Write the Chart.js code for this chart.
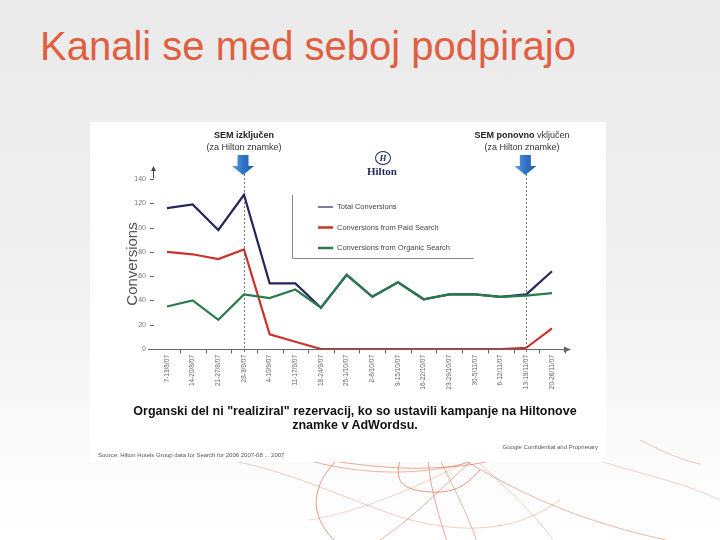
<!DOCTYPE html>
<html>
<head>
<meta charset="utf-8">
<script src="https://cdn.jsdelivr.net/npm/chart.js@4.4.1/dist/chart.umd.min.js"></script>
<style>
  html, body { margin: 0; padding: 0; }
  body {
    width: 720px; height: 540px; position: relative; overflow: hidden;
    background: linear-gradient(#eaeaea 0%, #efefef 45%, #f8f8f8 75%, #ffffff 100%);
    font-family: "Liberation Sans", Arial, sans-serif;
  }
  #title {
    position: absolute; left: 40px; top: 24px; margin: 0;
    font-size: 40px; font-weight: normal; color: #e15f41; white-space: nowrap;
  }
  #panel { position: absolute; left: 90px; top: 122px; width: 516px; height: 340px; background: #fff; }
  #chart { position: absolute; left: 0; top: 0; }
  .note { position: absolute; text-align: center; font-size: 9px; line-height: 12px; color: #333; white-space: nowrap; transform: translateX(-50%); }
  .note b { color: #222; }
  #hilton { position: absolute; left: 293px; top: 29px; width: 0; }
  #hilton .ring {
    position: absolute; left: -8px; top: 0; width: 14px; height: 12px; border: 1.5px solid #1f2a5e; border-radius: 50%;
    font: bold italic 9px "Liberation Serif", serif; color: #1f2a5e; text-align: center; line-height: 12px;
  }
  #hilton .word { position: absolute; left: -16px; top: 14px; font: bold 11px "Liberation Serif", serif; color: #1f2a5e; }
  #caption {
    position: absolute; left: 7px; width: 516px; top: 282px; text-align: center;
    font-size: 12.5px; font-weight: bold; line-height: 14px; color: #111;
  }
  #source { position: absolute; left: 8px; top: 330px; font-size: 6px; color: #555; white-space: nowrap; }
  #conf { position: absolute; right: 8px; top: 322px; font-size: 6px; color: #555; white-space: nowrap; }
  #swirls { position: absolute; left: 0; top: 440px; }
</style>
</head>
<body>
<h1 id="title">Kanali se med seboj podpirajo</h1>

<svg id="swirls" width="720" height="100">
  <g fill="none" stroke="#d8704e" stroke-width="1">
    <path d="M180 14 C 260 20, 300 40, 380 70 S 520 90, 560 60" opacity="0.35"/>
    <path d="M260 8 C 320 20, 380 30, 430 28 S 500 20, 520 8" opacity="0.6"/>
    <path d="M335 22 C 300 60, 320 90, 345 110" opacity="0.7"/>
    <path d="M300 18 C 360 36, 420 36, 470 22 S 520 10, 540 2" opacity="0.5"/>
    <path d="M400 20 C 395 40, 400 50, 430 52 S 470 40, 480 30" opacity="0.7"/>
    <path d="M428 18 C 430 50, 440 80, 450 110" opacity="0.6"/>
    <path d="M440 20 C 460 60, 470 80, 480 110" opacity="0.5"/>
    <path d="M470 22 C 440 50, 410 80, 380 100" opacity="0.55"/>
    <path d="M460 18 C 500 40, 560 80, 690 105" opacity="0.5"/>
    <path d="M480 24 C 520 60, 540 80, 560 110" opacity="0.35"/>
    <path d="M470 20 C 430 40, 370 70, 310 80" opacity="0.3"/>
    <path d="M580 14 C 620 30, 680 40, 720 60" opacity="0.3"/>
    <path d="M640 0 C 660 10, 680 20, 700 24" opacity="0.4"/>
  </g>
</svg>

<div id="panel">
  <canvas id="chart" width="516" height="340"></canvas>
  <div class="note" style="left:154px; top:7px;"><b>SEM izključen</b><br>(za Hilton znamke)</div>
  <div class="note" style="left:432px; top:7px;"><b>SEM ponovno</b> vključen<br>(za Hilton znamke)</div>
  <div id="hilton"><div class="ring">H</div><div class="word">Hilton</div></div>
  <div id="caption">Organski del ni "realiziral" rezervacij, ko so ustavili kampanje na Hiltonove<br>znamke v AdWordsu.</div>
  <div id="conf">Google Confidential and Proprietary</div>
  <div id="source">Source: Hilton Hotels Group data for Search for 2006 2007-08 ... 2007</div>
</div>

<script>
const weeks = ['7-13/8/07', '14-20/8/07', '21-27/8/07', '28-3/9/07', '4-10/9/07', '11-17/9/07',
  '18-24/9/07', '25-1/10/07', '2-8/10/07', '9-15/10/07', '16-22/10/07', '23-29/10/07',
  '30-5/11/07', '6-12/11/07', '13-19/11/07', '20-26/11/07'];
const totalConv = [116, 119, 98, 127, 54, 54, 34, 61, 43, 55, 41, 45, 45, 43, 45, 64];
const paidConv = [80, 78, 74, 82, 12, 6, 0, 0, 0, 0, 0, 0, 0, 0, 1, 17];
const organicConv = [35, 40, 24, 45, 42, 49, 34, 61, 43, 55, 41, 45, 45, 43, 44, 46];
const seriesNames = ['Total Conversions', 'Conversions from Paid Search', 'Conversions from Organic Search'];
const seriesColors = ['#25265c', '#cc322d', '#2a7b4b'];
const semEvents = [3, 14]; // SEM off, SEM on again

const Y_MAX = 140;
const Y_STEP = 20;

// extra drawing: axis arrows, tick dashes, dotted markers, legend box, blue arrows
const decor = {
  id: 'decor',
  beforeDatasetsDraw(chart) {
    const { ctx, chartArea, scales: { x, y } } = chart;
    const y0 = Math.round(y.getPixelForValue(0)) + 0.5;
    ctx.save();
    ctx.strokeStyle = '#666';
    ctx.fillStyle = '#666';
    ctx.lineWidth = 1;

    // x axis + arrow
    ctx.beginPath();
    ctx.moveTo(chartArea.left - 19, y0);
    ctx.lineTo(chartArea.right + 14, y0);
    ctx.stroke();
    ctx.beginPath();
    ctx.moveTo(chartArea.right + 19, y0);
    ctx.lineTo(chartArea.right + 12, y0 - 3);
    ctx.lineTo(chartArea.right + 12, y0 + 3);
    ctx.closePath();
    ctx.fill();

    // small ticks between weeks
    const step = x.getPixelForValue(1) - x.getPixelForValue(0);
    for (let i = 0; i < weeks.length; i++) {
      const px = Math.round(x.getPixelForValue(i) + step / 2) + 0.5;
      ctx.beginPath();
      ctx.moveTo(px, y0);
      ctx.lineTo(px, y0 + 4);
      ctx.stroke();
    }

    // y tick dashes
    y.ticks.forEach(t => {
      const py = Math.round(y.getPixelForValue(t.value)) + 0.5;
      ctx.beginPath();
      ctx.moveTo(chartArea.left - 17, py);
      ctx.lineTo(chartArea.left - 13, py);
      ctx.stroke();
    });

    // y arrow
    const ax = chartArea.left - 13.5;
    ctx.strokeStyle = '#444';
    ctx.fillStyle = '#444';
    ctx.beginPath();
    ctx.moveTo(ax, chartArea.top - 1);
    ctx.lineTo(ax, chartArea.top - 9);
    ctx.stroke();
    ctx.beginPath();
    ctx.moveTo(ax, chartArea.top - 13);
    ctx.lineTo(ax - 2.5, chartArea.top - 8);
    ctx.lineTo(ax + 2.5, chartArea.top - 8);
    ctx.closePath();
    ctx.fill();

    // dotted event lines
    ctx.strokeStyle = '#777';
    ctx.setLineDash([2, 2]);
    semEvents.forEach(i => {
      const px = Math.round(x.getPixelForValue(i)) + 0.5;
      ctx.beginPath();
      ctx.moveTo(px, chartArea.top - 5);
      ctx.lineTo(px, y0 + 4);
      ctx.stroke();
    });
    ctx.setLineDash([]);

    // legend box (left + bottom border only)
    const lx = chartArea.left + 125.5, ly = chartArea.top + 16, lb = chartArea.top + 79.5;
    ctx.strokeStyle = '#888';
    ctx.beginPath();
    ctx.moveTo(lx, ly);
    ctx.lineTo(lx, lb);
    ctx.lineTo(lx + 181, lb);
    ctx.stroke();

    ctx.font = '7.5px "Liberation Sans", Arial, sans-serif';
    ctx.textBaseline = 'middle';
    chart.data.datasets.forEach((ds, i) => {
      const iy = chartArea.top + 28 + i * 20.5;
      ctx.strokeStyle = ds.borderColor;
      ctx.lineWidth = i === 0 ? 1.2 : 2.5;
      ctx.beginPath();
      ctx.moveTo(chartArea.left + 151, iy);
      ctx.lineTo(chartArea.left + 166, iy);
      ctx.stroke();
      ctx.fillStyle = '#444';
      ctx.fillText(ds.label, chartArea.left + 170, iy);
    });
    ctx.restore();
  },
  afterDatasetsDraw(chart) {
    const { ctx, chartArea, scales: { x } } = chart;
    ctx.save();
    semEvents.forEach(i => {
      const cx = x.getPixelForValue(i) - 1;
      const top = chartArea.top - 24;
      const g = ctx.createLinearGradient(cx - 10, 0, cx + 10, 0);
      g.addColorStop(0, '#5b9be0');
      g.addColorStop(0.5, '#2f74c8');
      g.addColorStop(1, '#1f5aa6');
      ctx.fillStyle = g;
      ctx.beginPath();
      ctx.moveTo(cx - 5.5, top);
      ctx.lineTo(cx + 5.5, top);
      ctx.lineTo(cx + 5.5, top + 11);
      ctx.lineTo(cx + 11, top + 11);
      ctx.lineTo(cx, top + 20);
      ctx.lineTo(cx - 11, top + 11);
      ctx.lineTo(cx - 5.5, top + 11);
      ctx.closePath();
      ctx.fill();
    });
    ctx.restore();
  }
};

const mkSet = (i, data, order) => ({
  label: seriesNames[i],
  data: data,
  borderColor: seriesColors[i],
  backgroundColor: seriesColors[i],
  borderWidth: 2.2,
  pointRadius: 0,
  tension: 0,
  order: order
});

new Chart(document.getElementById('chart'), {
  type: 'line',
  data: {
    labels: weeks,
    datasets: [
      mkSet(0, totalConv, 1),
      mkSet(1, paidConv, 2),
      mkSet(2, organicConv, 0)
    ]
  },
  options: {
    responsive: false,
    animation: false,
    devicePixelRatio: 1,
    layout: { padding: { left: 0, right: 54, top: 57, bottom: 55 } },
    plugins: { legend: { display: false }, tooltip: { enabled: false } },
    scales: {
      x: {
        offset: false,
        grid: { display: false, drawTicks: false },
        border: { display: false },
        ticks: {
          autoSkip: false, minRotation: 90, maxRotation: 90, padding: 6,
          color: '#666', font: { size: 6.5, family: '"Liberation Sans", Arial, sans-serif' }
        },
        afterFit: s => { s.height = 58; }
      },
      y: {
        min: 0, max: Y_MAX,
        grid: { display: false, drawTicks: false },
        border: { display: false },
        ticks: {
          stepSize: Y_STEP, padding: 21,
          color: '#777', font: { size: 7, family: '"Liberation Sans", Arial, sans-serif' }
        },
        title: {
          display: true, text: 'Conversions', color: '#555',
          padding: { top: 34, bottom: 0 },
          font: { size: 15, family: '"Liberation Sans", Arial, sans-serif' }
        },
        afterFit: s => { s.width = 77; }
      }
    }
  },
  plugins: [decor]
});
</script>
</body>
</html>
